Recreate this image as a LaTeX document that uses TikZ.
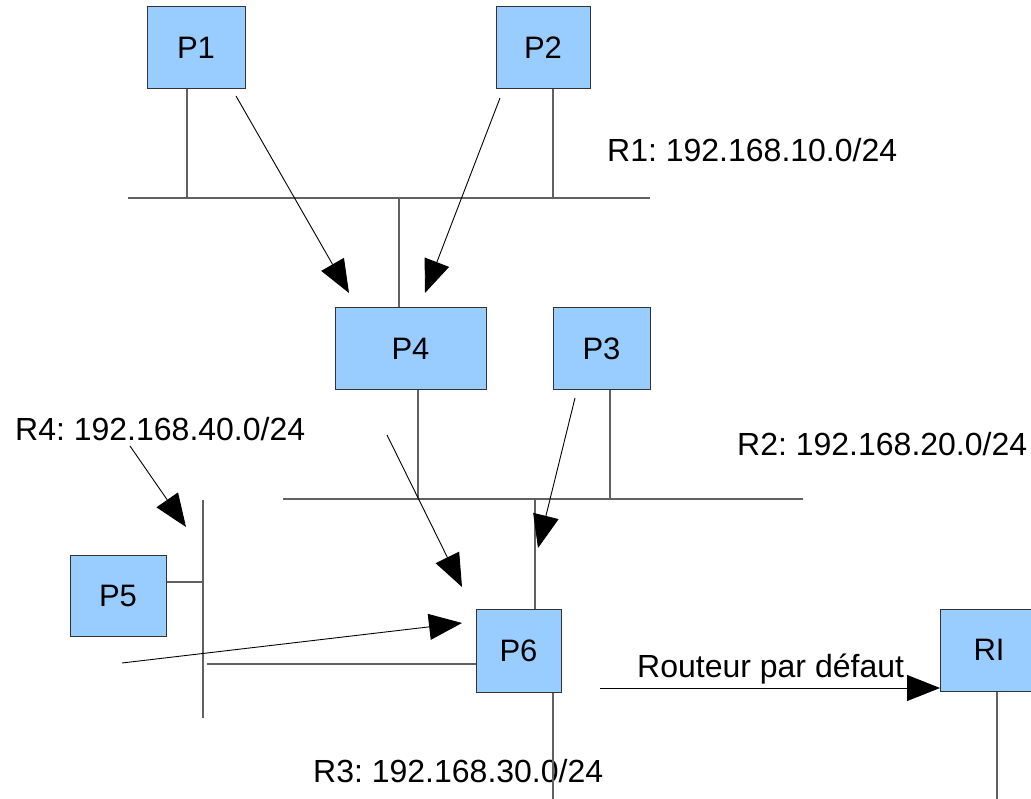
\documentclass[tikz,border=0pt]{standalone}
\usepackage{fontspec}
\setmainfont{Liberation Sans}
\usetikzlibrary{arrows.meta}
\definecolor{hostblue}{RGB}{153,204,255}
\frenchspacing
\begin{document}
\begin{tikzpicture}[x=1pt,y=-1pt,
  host/.style={draw=black!80, fill=hostblue, line width=1pt, inner sep=0pt,
               minimum height=82pt, font=\fontsize{31}{31}\selectfont},
  wire/.style={draw=black!62, line width=1.3pt},
  route/.style={draw=black, line width=0.9pt, -{Triangle[length=33pt,width=26pt]}},
  lbl/.style={font=\fontsize{32}{32}\selectfont, inner sep=0pt, anchor=base west}]
\useasboundingbox (0,0) rectangle (1031,799);

% hosts
\node[host, minimum width=98pt] (P1) at (196,48) {P1};
\node[host, minimum width=94pt] (P2) at (543,48) {P2};
\node[host, minimum width=151pt] (P4) at (410.5,349) {P4};
\node[host, minimum width=97pt] (P3) at (601.5,349) {P3};
\node[host, minimum width=96pt, minimum height=81pt] (P5) at (118,595.5) {P5};
\node[host, minimum width=85pt, minimum height=83pt] (P6) at (518.5,650.5) {P6};
\node[host, minimum width=100pt, minimum height=82pt, anchor=west,
      text width=100pt, align=left] (RI) at (940,650) {\hspace*{33pt}RI};

% network labels
\node[lbl] (r1) at (607,162) {R1: 192.168.10.0/24};
\node[lbl] (r2) at (737,455) {R2: 192.168.20.0/24};
\node[lbl] (r4) at (15,441) {R4: 192.168.40.0/24};
\node[lbl] (r3) at (313,782) {R3: 192.168.30.0/24};

% buses
\coordinate (b1w) at (128,198);  \coordinate (b1e) at (650,198);
\coordinate (b2w) at (283,499);  \coordinate (b2e) at (803,499);
\coordinate (b4n) at (203,500);  \coordinate (b4s) at (203,718);
\draw[wire] (b1w) -- (b1e);
\draw[wire] (b2w) -- (b2e);
\draw[wire] (b4n) -- (b4s);

% taps onto the buses
\coordinate (t1) at (187,198);
\coordinate (t2) at (553,198);
\coordinate (t4) at (399,198);
\coordinate (t4b) at (418,499);
\coordinate (t3) at (610,499);
\coordinate (t6) at (535,499);
\coordinate (t5) at (203,582);
\coordinate (t6b) at (207,664);
\coordinate (t6c) at (553,799);
\coordinate (tRI) at (997,799);
\draw[wire] (t1 |- P1.south) -- (t1);
\draw[wire] (t2 |- P2.south) -- (t2);
\draw[wire] (t4 |- P4.north) -- (t4);
\draw[wire] (t4b |- P4.south) -- (t4b);
\draw[wire] (t3 |- P3.south) -- (t3);
\draw[wire] (t6 |- P6.north) -- (t6);
\draw[wire] (t5 -| P5.east) -- (t5);
\draw[wire] (t6b -| P6.west) -- (t6b);
\draw[wire] (t6c |- P6.south) -- (t6c);
\draw[wire] (tRI |- RI.south) -- (tRI);

% routes
\coordinate (a1s) at (236,96);  \coordinate (a1e) at (349,293);
\coordinate (a2s) at (500,98);  \coordinate (a2e) at (425,293);
\coordinate (a3s) at (130,446); \coordinate (a3e) at (186,527);
\coordinate (a4s) at (387,435); \coordinate (a4e) at (462,587);
\coordinate (a5s) at (575,398); \coordinate (a5e) at (538,548);
\coordinate (a6s) at (122,663); \coordinate (a6e) at (462,623);
\coordinate (a7s) at (600,688);
\draw[route] (a1s) -- (a1e);
\draw[route] (a2s) -- (a2e);
\draw[route] (a3s) -- (a3e);
\draw[route] (a4s) -- (a4e);
\draw[route] (a5s) -- (a5e);
\draw[route] (a6s) -- (a6e);
\draw[route] (a7s) -- (a7s -| RI.west);
\node[lbl] (gw) at (637,677) {Routeur par défaut};
\end{tikzpicture}
\end{document}
